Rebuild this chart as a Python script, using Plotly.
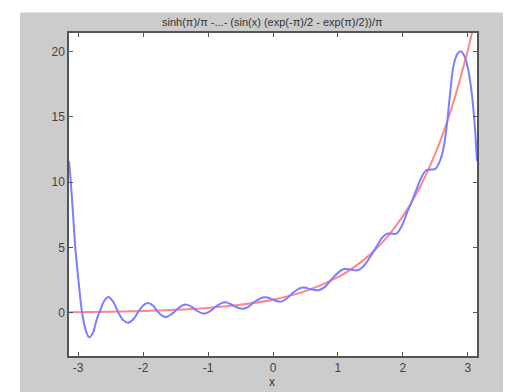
import plotly.graph_objects as go

# Blue: partial Fourier sum
blue_x = [-3.1416, -3.12, -3.08, -3.045, -2.99, -2.94, -2.88, -2.83, -2.77, -2.72, -2.66, -2.60,
          -2.535, -2.47, -2.38, -2.30, -2.23, -2.15, -2.07, -2.0, -1.93, -1.85, -1.78, -1.70,
          -1.64, -1.56, -1.48, -1.40, -1.33, -1.25, -1.17, -1.10, -1.05, -0.98, -0.90, -0.80,
          -0.73, -0.65, -0.55, -0.46, -0.38, -0.30, -0.20, -0.12, -0.02, 0.05, 0.13, 0.20,
          0.30, 0.40, 0.48, 0.58, 0.70, 0.80, 0.90, 1.00, 1.09, 1.20, 1.30, 1.40, 1.50,
          1.60, 1.68, 1.76, 1.83, 1.90, 1.98, 2.06, 2.12, 2.20, 2.28, 2.36, 2.43, 2.50,
          2.57, 2.63, 2.68, 2.73, 2.78, 2.84, 2.89, 2.95, 3.01, 3.06, 3.10, 3.1416]
blue_y = [11.6, 10.4, 7.6, 5.0, 2.2, 0.0, -1.4, -1.88, -1.5, -0.6, 0.2, 0.9,
          1.2, 0.9, 0.0, -0.6, -0.76, -0.5, 0.1, 0.55, 0.74, 0.55, 0.1, -0.25,
          -0.32, -0.1, 0.25, 0.55, 0.62, 0.45, 0.15, -0.03, -0.06, 0.08, 0.4, 0.72,
          0.8, 0.65, 0.4, 0.3, 0.45, 0.78, 1.08, 1.18, 1.05, 0.9, 0.85, 1.05,
          1.5, 1.85, 1.93, 1.8, 1.72, 1.98, 2.55, 3.05, 3.35, 3.3, 3.25, 3.6, 4.3,
          5.1, 5.75, 6.05, 6.05, 6.05, 6.6, 7.6, 8.3, 9.3, 10.3, 10.9, 10.95, 11.0,
          11.6, 12.7, 14.5, 16.9, 18.9, 19.8, 20.0, 19.6, 18.5, 16.8, 14.8, 11.6]

# Red: exp(x) curve
red_x = [-3.1416, -2.5, -2.0, -1.5, -1.0, -0.5, 0.0, 0.5, 1.0, 1.25, 1.5, 1.75, 2.0,
         2.25, 2.5, 2.75, 3.0, 3.1416]
red_y = [0.04, 0.08, 0.14, 0.22, 0.37, 0.61, 1.0, 1.65, 2.72, 3.49, 4.48, 5.75, 7.39,
         9.49, 12.18, 15.64, 20.09, 23.1]

x_ticks = [-3, -2, -1, 0, 1, 2, 3]
x_tick_labels = ["-3", "-2", "-1", "0", "1", "2", "3"]
y_ticks = [0, 5, 10, 15, 20]
y_tick_labels = ["0", "5", "10", "15", "20"]

title_text = "sinh(\u03c0)/\u03c0 -...- (sin(x) (exp(-\u03c0)/2 - exp(\u03c0)/2))/\u03c0"

W, H = 512, 392
L, R, T, B = 69, 477, 33, 356
pw, ph = R - L, B - T

def px(xp):
    return (xp - L) / pw

def py(yp):
    return (B - yp) / ph

fig = go.Figure()
fig.add_trace(go.Scatter(x=red_x, y=red_y, mode="lines",
                         line=dict(color="rgb(255,135,135)", width=2, shape="spline"),
                         hoverinfo="skip"))
fig.add_trace(go.Scatter(x=blue_x, y=blue_y, mode="lines",
                         line=dict(color="rgb(125,125,255)", width=2, shape="spline"),
                         hoverinfo="skip"))

axis_common = dict(showgrid=False, zeroline=False, showline=True, linecolor="#555555",
                   linewidth=1.5, mirror="ticks", ticks="inside", ticklen=4,
                   tickcolor="#555555", tickfont=dict(family="Liberation Sans", size=12,
                                                      color="#444444"))
fig.update_xaxes(range=[-3.1416, 3.1416], tickvals=x_ticks, ticktext=x_tick_labels,
                 **axis_common)
fig.update_yaxes(range=[-3.31, 21.4], tickvals=y_ticks, ticktext=y_tick_labels,
                 **axis_common)

shapes = [
    dict(type="rect", xref="paper", yref="paper", x0=px(0), x1=px(20), y0=py(0), y1=py(H),
         fillcolor="white", line=dict(width=0), layer="below"),
    dict(type="rect", xref="paper", yref="paper", x0=px(503), x1=px(W), y0=py(0), y1=py(H),
         fillcolor="white", line=dict(width=0), layer="below"),
    dict(type="rect", xref="paper", yref="paper", x0=px(0), x1=px(W), y0=py(0), y1=py(12.5),
         fillcolor="white", line=dict(width=0), layer="below"),
]

fig.update_layout(
    width=W, height=H,
    margin=dict(l=L, r=W - R, t=T, b=H - B, pad=0),
    paper_bgcolor="#cccccc", plot_bgcolor="white",
    showlegend=False,
    shapes=shapes,
    annotations=[
        dict(text=title_text, xref="paper", yref="paper", x=px(272), y=py(22),
             xanchor="center", yanchor="middle", showarrow=False,
             font=dict(family="Liberation Sans", size=11, color="#333333")),
        dict(text="x", xref="paper", yref="paper", x=px(272), y=py(382),
             xanchor="center", yanchor="middle", showarrow=False,
             font=dict(family="Liberation Sans", size=12, color="#333333")),
    ],
)

fig.write_html("out.html")
